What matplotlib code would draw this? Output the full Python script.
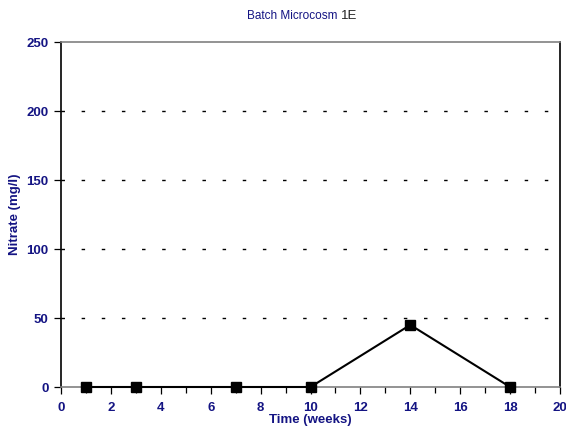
import matplotlib
matplotlib.use("Agg")
import matplotlib.pyplot as plt
from matplotlib.ticker import MultipleLocator

plt.rcParams["font.family"] = ["Liberation Sans", "DejaVu Sans"]

# Nitrate measurements for microcosm 1E
weeks = [1, 3, 7, 10, 14, 18]
nitrate = [0, 0, 0, 0, 45, 0]

navy = "#141483"

fig = plt.figure(figsize=(5.66, 4.30), dpi=100)
ax = fig.add_axes([0.1078, 0.1, 0.8816, 0.802])

ax.plot(weeks, nitrate, color="black", lw=1.5, marker="s", ms=7, zorder=3, clip_on=False)

ax.set_xlim(0, 20)
ax.set_ylim(0, 250)
ax.xaxis.set_major_locator(MultipleLocator(2))
ax.xaxis.set_minor_locator(MultipleLocator(1))
ax.yaxis.set_major_locator(MultipleLocator(50))

for y in [50, 100, 150, 200]:
    ax.axhline(y, color="black", lw=1.0, linestyle=(0, (2.5, 12)), zorder=1)

ax.tick_params(axis="both", which="both", direction="out", colors="black",
               labelcolor=navy, labelsize=9.5)
ax.tick_params(axis="both", which="major", length=5, width=0.9, pad=4)
ax.tick_params(axis="x", which="major", pad=6)
ax.tick_params(axis="x", which="minor", length=4, width=0.9)
for lbl in ax.get_xticklabels() + ax.get_yticklabels():
    lbl.set_fontweight("bold")

ax.spines["left"].set_color("black")
ax.spines["right"].set_color("black")
ax.spines["top"].set_color("#808080")
ax.spines["bottom"].set_color("#808080")
for s in ax.spines.values():
    s.set_linewidth(1.2)

ax.set_xlabel("Time (weeks)", color=navy, fontsize=9.5, fontweight="bold", labelpad=0)
ax.set_ylabel("Nitrate (mg/l)", color=navy, fontsize=9.5, fontweight="bold", labelpad=4)

fig.text(0.602, 0.962, "Batch Microcosm ", color=navy, fontsize=8.5, ha="right", va="center")
fig.text(0.602, 0.962, "1E", color="#222222", fontsize=9.5, ha="left", va="center")

fig.savefig("out.png", dpi=100)
